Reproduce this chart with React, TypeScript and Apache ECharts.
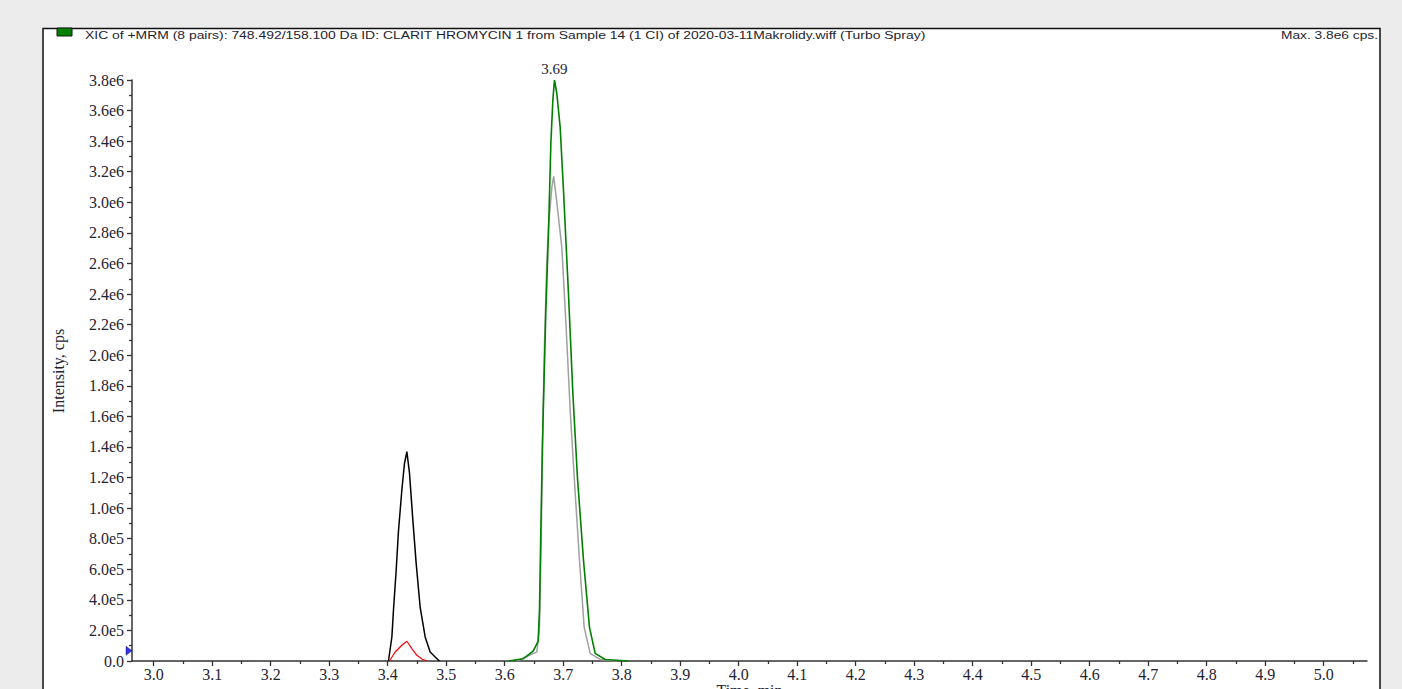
import React, { useEffect, useRef } from "react";
import * as echarts from "echarts";

// ---------- texts ----------
const TITLE =
  "XIC of +MRM (8 pairs): 748.492/158.100 Da ID: CLARIT HROMYCIN 1 from Sample 14 (1 CI) of 2020-03-11Makrolidy.wiff (Turbo Spray)";
const MAX_NOTE = "Max. 3.8e6 cps.";
const X_NAME = "Time, min";
const Y_NAME = "Intensity, cps";

// ---------- axes ----------
const X_MIN = 2.963;
const X_MAX = 5.074;
const xTicks = [
  3.0, 3.1, 3.2, 3.3, 3.4, 3.5, 3.6, 3.7, 3.8, 3.9, 4.0, 4.1, 4.2, 4.3, 4.4,
  4.5, 4.6, 4.7, 4.8, 4.9, 5.0,
];
const xMinorTicks = [
  3.05, 3.15, 3.25, 3.35, 3.45, 3.55, 3.65, 3.75, 3.85, 3.95, 4.05, 4.15, 4.25,
  4.35, 4.45, 4.55, 4.65, 4.75, 4.85, 4.95, 5.05,
];
const Y_MAX = 3.8e6;
const Y_INTERVAL = 2e5;
const THRESHOLD_MARK = 6.7e4;

// ---------- traces: [time (min), intensity (cps)] ----------
const blackTrace: [number, number][] = [
  [3.4014, 0], [3.4072, 1.57e5], [3.4099, 3.3e5], [3.4145, 5.9e5],
  [3.4185, 8.5e5], [3.4243, 1.12e6], [3.4287, 1.29e6], [3.4328, 1.37e6],
  [3.4373, 1.23e6], [3.4431, 9.2e5], [3.4487, 6.4e5], [3.4556, 3.5e5],
  [3.4641, 1.57e5], [3.4726, 5.9e4], [3.4812, 2.6e4], [3.4885, 0],
];
const redTrace: [number, number][] = [
  [3.4031, 0], [3.4128, 5.9e4], [3.4243, 1.03e5], [3.4328, 1.29e5],
  [3.4414, 8.1e4], [3.4499, 3.7e4], [3.4585, 1.3e4], [3.467, 0],
];
const greenTrace: [number, number][] = [
  [3.6065, 0], [3.6321, 1.5e4], [3.6487, 6.5e4], [3.6573, 1.3e5],
  [3.6595, 3.3e5], [3.6619, 8.7e5], [3.6646, 1.42e6], [3.6675, 1.86e6],
  [3.6704, 2.29e6], [3.6749, 2.8e6], [3.679, 3.39e6], [3.6824, 3.67e6],
  [3.6851, 3.8e6], [3.6892, 3.71e6], [3.6949, 3.49e6], [3.7005, 3.08e6],
  [3.7091, 2.4e6], [3.7166, 1.75e6], [3.7244, 1.2e6], [3.7347, 6.6e5],
  [3.745, 2.2e5], [3.7547, 5e4], [3.7718, 1e4], [3.8116, 0],
];
const grayTrace: [number, number][] = [
  [3.6209, 0], [3.6551, 6e4], [3.6595, 2.2e5], [3.6624, 7.7e5],
  [3.6652, 1.53e6], [3.6681, 2.08e6], [3.6721, 2.62e6], [3.6749, 2.84e6],
  [3.6807, 3.1e6], [3.6838, 3.17e6], [3.6892, 3.0e6], [3.6978, 2.7e6],
  [3.7051, 2.18e6], [3.712, 1.64e6], [3.7205, 1.1e6], [3.7279, 6.6e5],
  [3.7359, 2.2e5], [3.7462, 5e4], [3.7632, 1e4], [3.7918, 0],
];

const SERIF = "'Liberation Serif', 'Times New Roman', serif";
const SANS = "'Liberation Sans', Arial, sans-serif";
const TEXT = "#1f2430";
const AXIS = "#333333";

function fmtY(v: number): string {
  if (v === 0) return "0.0";
  const e = Math.floor(Math.log10(v) + 1e-9);
  const m = v / Math.pow(10, e);
  return m.toFixed(1) + "e" + e;
}

const greenPeak = greenTrace.reduce((a, b) => (b[1] > a[1] ? b : a));

export default function App() {
  const ref = useRef<HTMLDivElement>(null);

  useEffect(() => {
    document.body.style.margin = "0";
    const chart = echarts.init(ref.current!, undefined, { renderer: "svg" });

    const lineSeries = (name: string, data: [number, number][], color: string, width: number, extra: any = {}) => ({
      type: "line",
      name,
      data,
      xAxisIndex: 0,
      yAxisIndex: 0,
      showSymbol: false,
      symbol: "none",
      lineStyle: { color, width },
      itemStyle: { color },
      ...extra,
    });

    chart.setOption({
      animation: false,
      backgroundColor: "#ececec",
      grid: { left: 132, right: 35, top: 80, bottom: 28, containLabel: false, outerBoundsMode: "none" },
      xAxis: [
        {
          type: "value",
          min: X_MIN,
          max: X_MAX,
          name: X_NAME,
          nameLocation: "middle",
          nameGap: 21,
          nameMoveOverlap: false,
          nameTextStyle: { fontFamily: SERIF, fontSize: 16, color: TEXT },
          axisLine: { show: true, lineStyle: { color: AXIS, width: 1.5 } },
          axisTick: { show: true, length: 5, customValues: xTicks, lineStyle: { color: AXIS, width: 1.3 } },
          axisLabel: {
            show: true,
            customValues: xTicks,
            margin: 5,
            fontFamily: SERIF,
            fontSize: 16,
            color: TEXT,
            formatter: (v: number) => v.toFixed(1),
          },
          splitLine: { show: false },
        },
        {
          type: "value",
          position: "bottom",
          min: X_MIN,
          max: X_MAX,
          axisLine: { show: false },
          axisTick: { show: true, length: 3, customValues: xMinorTicks, lineStyle: { color: AXIS, width: 1.3 } },
          axisLabel: { show: false },
          splitLine: { show: false },
        },
      ],
      yAxis: {
        type: "value",
        min: 0,
        max: Y_MAX,
        interval: Y_INTERVAL,
        axisLine: { show: true, lineStyle: { color: AXIS, width: 1.5 } },
        axisTick: { show: true, length: 5, lineStyle: { color: AXIS, width: 1.3 } },
        minorTick: { show: true, splitNumber: 2, length: 3, lineStyle: { color: AXIS, width: 1.3 } },
        axisLabel: { margin: 8, fontFamily: SERIF, fontSize: 16, color: TEXT, formatter: fmtY },
        splitLine: { show: false },
        minorSplitLine: { show: false },
      },
      graphic: [
        {
          type: "rect",
          z: -10,
          shape: { x: 43, y: 28.5, width: 1337, height: 700 },
          style: { fill: "#ffffff", stroke: "#111111", lineWidth: 1.5 },
        },
        {
          type: "rect",
          z: 5,
          shape: { x: 57, y: 28, width: 15, height: 8 },
          style: { fill: "#008000", stroke: "#1a1a1a", lineWidth: 1 },
        },
        {
          type: "text",
          z: 5,
          x: 85,
          y: 30,
          scaleX: 1.265,
          style: { text: TITLE, fontFamily: SANS, fontSize: 11, fill: TEXT, textVerticalAlign: "top" },
        },
        {
          type: "text",
          z: 5,
          x: 1378,
          y: 30,
          scaleX: 1.25,
          style: { text: MAX_NOTE, fontFamily: SANS, fontSize: 11, fill: TEXT, textAlign: "right", textVerticalAlign: "top" },
        },
        {
          type: "text",
          z: 5,
          x: 58,
          y: 371,
          rotation: Math.PI / 2,
          style: { text: Y_NAME, fontFamily: SERIF, fontSize: 16, fill: TEXT, textAlign: "center", textVerticalAlign: "middle" },
        },
      ],
      series: [
        lineSeries("gray", grayTrace, "#a0a0a0", 1.5),
        lineSeries("green", greenTrace, "#008000", 1.6, {
          markPoint: {
            symbol: "circle",
            symbolSize: 1,
            itemStyle: { color: "rgba(0,0,0,0)" },
            label: {
              show: true,
              position: "top",
              distance: 3,
              formatter: greenPeak[0].toFixed(2),
              fontFamily: SERIF,
              fontSize: 15,
              color: TEXT,
            },
            data: [{ coord: [greenPeak[0], greenPeak[1]] }],
          },
        }),
        lineSeries("black", blackTrace, "#000000", 1.5),
        lineSeries("red", redTrace, "#ff0000", 1.2),
        {
          type: "scatter",
          data: [[X_MIN, THRESHOLD_MARK]],
          symbol: "triangle",
          symbolSize: [9, 6],
          symbolRotate: -90,
          symbolOffset: [-3, 0],
          clip: false,
          itemStyle: { color: "#0000ee", borderColor: "#000044", borderWidth: 0.5 },
          z: 6,
        },
      ],
    });

    return () => chart.dispose();
  }, []);

  return (
    <div
      ref={ref}
      style={{ position: "fixed", left: 0, top: 0, width: 1402, height: 689 }}
    />
  );
}
